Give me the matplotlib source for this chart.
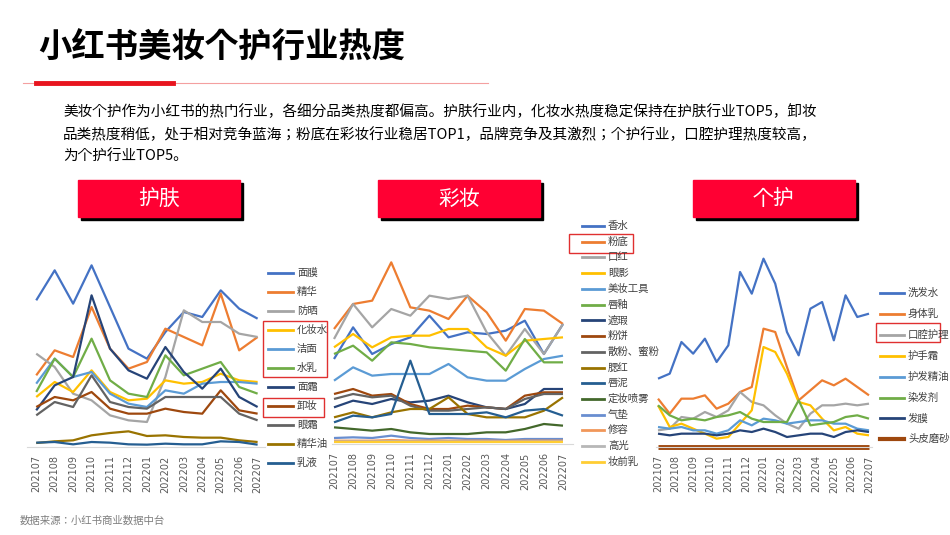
import matplotlib
matplotlib.use("Agg")
import matplotlib.pyplot as plt
from matplotlib.lines import Line2D
from matplotlib.patches import Rectangle

plt.rcParams["font.family"] = ["Noto Sans CJK SC", "Noto Sans CJK JP", "Noto Sans CJK TC",
                               "Noto Sans CJK KR", "DejaVu Sans"]

months = ["202107","202108","202109","202110","202111","202112","202201",
          "202202","202203","202204","202205","202206","202207"]

skin_names = ["面膜","精华","防晒","化妆水","洁面","水乳","面霜","卸妆","眼霜","精华油","乳液"]
skin_vals = [
    [88,106,86,109,84,59,53,69,81,78,94,83,77],
    [43,58,54,84,59,47,51,71,66,61,92,58,66],
    [56,48,32,28,19,16,15,42,82,75,75,68,66],
    [30,39,33,46,33,28,29,40,38,39,44,40,39],
    [38,53,42,45,32,26,24,34,32,38,39,39,38],
    [33,53,42,65,40,32,30,55,43,47,51,36,32],
    [22,37,42,91,59,46,41,60,45,35,47,30,24],
    [24,30,28,33,23,20,20,23,21,20,34,22,20],
    [19,27,24,43,27,24,23,30,30,30,30,20,16],
    [2.4,3.4,4,7,8.4,9.4,6.6,7,6,5.6,5.6,4,3],
    [2.6,3,1.6,3,2.6,1.6,1.4,2,1.6,1.6,3.4,3,1.4],
]

makeup_names = ["香水","粉底","口红","眼影","美妆工具","唇釉","遮瑕","粉饼","散粉、蜜粉",
                "腮红","唇泥","定妆喷雾","气垫","修容","高光","妆前乳"]
makeup_vals = [
    [51,70,54,60,64,77,64,67,66,68,74,54,72],
    [69,84,86,109,82,80,75,89,79,62,81,80,72],
    [63,84,70,81,77,89,87,89,67,53,69,54,72],
    [58,66,58,64,65,65,69,69,58,53,62,63,64],
    [38,46,41,42,42,42,48,40,38,38,45,51,53],
    [54,59,50,61,60,58,57,56,55,44,63,49,49],
    [22,26,24,27,25,26,29,25,22,21,24,33,33],
    [30,33,29,30,24,21,21,23,22,21,29,31,31],
    [27,30,28,29,23,20,20,21,22,21,27,30,30],
    [16,19,16,19,21,21,28,18,16,16,16,20,28],
    [13,17,16,18,50,18,18,18,19,16,20,21,17],
    [10,9,8,9,7,6,6,6,7,7,9,12,11],
    [3.6,4,3.6,5,3.6,3,3.6,3,3,2.4,3,3,3],
    [2,2,2,2.4,2,2,2,2,2,1.8,2,2,2],
    [1.5,1.5,1.5,1.6,1.5,1.5,1.5,1.5,1.5,1.4,1.5,1.5,1.5],
    [1,1,1,1,1,1,1,1,1,1,1,1,1],
]

care_names = ["洗发水","身体乳","口腔护理","护手霜","护发精油","染发剂","发膜","头皮磨砂膏"]
care_vals = [
    [41,44,63,56,65,51,61,105,92,113,98,69,55,83,87,64,91,78,80],
    [29,20,29,29,31,23,26,33,36,71,69,48,28,34,40,37,41,36,31],
    [10,11,18,17,21,18,22,33,27,25,19,14,11,20,25,25,26,25,26],
    [25,12,14,11,8,5,6,14,22,60,57,44,27,25,17,10,12,8,7],
    [12,11,12,10,10,8,10,16,13,17,16,14,15,16,16,14,14,11,10],
    [25,19,16,17,16,18,19,21,17,15,15,15,28,13,14,15,18,19,17],
    [8,7,8,8,8,7,8,10,9,11,9,6,7,8,8,6,9,10,9],
    [0]*19,
]

palette = ["#4472C4","#ED7D31","#A5A5A5","#FFC000","#5B9BD5","#70AD47","#264478",
           "#9E480E","#636363","#997300","#255E91","#43682B","#698ED0","#F1975A",
           "#B7B7B7","#FFCD33"]
care_colors = palette[:7] + ["#9E480E"]

W, H = 950, 535
fig = plt.figure(figsize=(9.5, 5.35), dpi=100)

def fx(x): return x / W
def fy(y): return 1 - y / H

def add_ax(x0, x1, ytop, ybot):
    return fig.add_axes([fx(x0), fy(ybot), fx(x1) - fx(x0), (ybot - ytop) / H])

# Title
fig.text(fx(38), fy(48), "小红书美妆个护行业热度", fontsize=24, fontweight="bold",
         va="center", ha="left", color="#000000")
fig.add_artist(Line2D([fx(23), fx(488)], [fy(83), fy(83)], color="#F4A0A0", lw=0.8))
fig.add_artist(Line2D([fx(36), fx(173)], [fy(83), fy(83)], color="#E8141E", lw=3.5))
para = ["美妆个护作为小红书的热门行业，各细分品类热度都偏高。护肤行业内，化妆水热度稳定保持在护肤行业TOP5，卸妆",
        "品类热度稍低，处于相对竞争蓝海；粉底在彩妆行业稳居TOP1，品牌竞争及其激烈；个护行业，口腔护理热度较高，",
        "为个护行业TOP5。"]
for i, t in enumerate(para):
    fig.text(fx(63), fy(112 + i * 22.5), t, fontsize=10.5, va="center", ha="left", color="#000000")

# headers
for x0, label in [(78, "护肤"), (378, "彩妆"), (693, "个护")]:
    fig.add_artist(Rectangle((fx(x0 + 3), fy(220)), fx(162), 37 / H, color="#000000"))
    fig.add_artist(Rectangle((fx(x0), fy(217)), fx(162), 37 / H, color="#FF0033"))
    fig.text(fx(x0 + 81), fy(199), label, fontsize=15, color="white", ha="center", va="center")

def draw_chart(x0, x1, ytop, ybot, names, vals, colors, labels_pos, ymax):
    ax = add_ax(x0, x1, ytop, ybot)
    n = len(vals[0])
    xs = list(range(n))
    for v, c, nm in zip(vals, colors, names):
        lw = 3.5 if nm == "头皮磨砂膏" else 1.6
        ax.plot(xs, v, color=c, lw=lw, solid_capstyle="butt", clip_on=False)
    ax.set_ylim(0, ymax)
    for s in ["top", "right", "left"]:
        ax.spines[s].set_visible(False)
    ax.spines["bottom"].set_color("#D9D9D9")
    ax.set_yticks([])
    ax.set_xticks(labels_pos)
    ax.set_xticklabels(months, rotation=90, fontsize=7, color="#595959", fontfamily="DejaVu Sans")
    ax.tick_params(axis="x", length=0, pad=6)
    return ax

ax1 = draw_chart(27, 265, 255, 447, skin_names, skin_vals, palette, list(range(13)), 115.2)
ax1.set_xlim(-0.5, 12.4)
ax2 = draw_chart(332, 573, 255, 444, makeup_names, makeup_vals, palette, list(range(13)), 113.4)
sc = (563 - 334) / 12
ax2.set_xlim(-(334 - 332) / sc, 12 + (573 - 563) / sc)
pos3 = [i * 18 / 12 for i in range(13)]
ax3 = draw_chart(656, 872, 255, 447, care_names, care_vals, care_colors, pos3, 115.2)
sc3 = (869 - 658) / 18
ax3.set_xlim(-(658 - 656) / sc3, 18 + (872 - 869) / sc3)

def legend(names, colors, x, y0, step, llen):
    for i, (nm, c) in enumerate(zip(names, colors)):
        y = y0 + i * step
        fig.add_artist(Line2D([fx(x), fx(x + llen)], [fy(y), fy(y)], color=c,
                              lw=3 if nm == "头皮磨砂膏" else 2))
        fig.text(fx(x + llen + 4), fy(y), nm, fontsize=7.5, color="#404040", va="center", ha="left")

legend(skin_names, palette, 268, 273, 19.0, 25)
legend(makeup_names, palette, 582, 226, 15.73, 22)
legend(care_names, care_colors, 880, 293, 20.9, 24)

def box(x0, y0, x1, y1):
    fig.add_artist(Rectangle((fx(x0), fy(y1)), fx(x1 - x0), (y1 - y0) / H, fill=False,
                             edgecolor="#E03030", lw=1))
box(263, 321, 327, 377)
box(263, 398, 324, 417)
box(569, 234, 633, 253)
box(876, 323, 940, 342)

fig.text(fx(20), fy(521), "数据来源：小红书商业数据中台", fontsize=7.5, color="#7F7F7F", va="center")

fig.savefig("out.png", dpi=100)
